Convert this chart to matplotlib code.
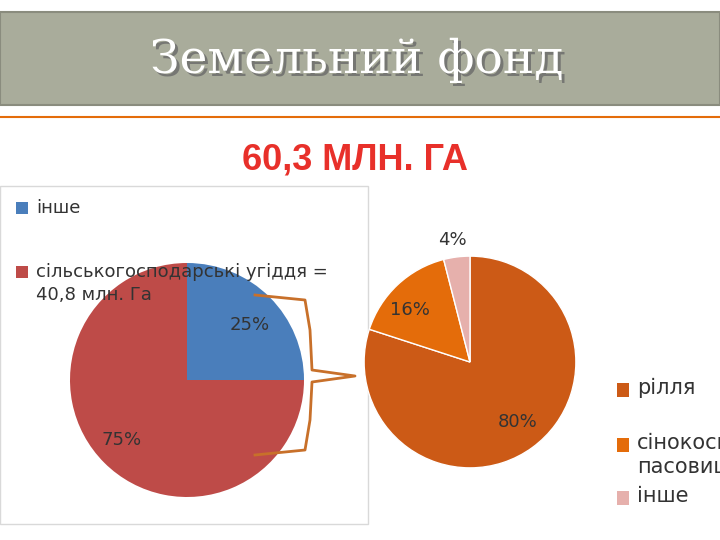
import matplotlib
matplotlib.use('Agg')
import matplotlib.pyplot as plt
from matplotlib.patches import Rectangle

left_labels = ["інше", "сільськогосподарські угіддя =\n40,8 млн. Га"]
left_values = [25, 75]
right_labels = ["рілля", "сінокоси,\nпасовища", "інше"]
right_values = [80, 16, 4]

W, H = 720, 540
def fx(x): return x / W
def fy(y): return 1 - y / H

fig = plt.figure(figsize=(7.2, 5.4), dpi=100)
fig.patch.set_facecolor('white')

# title bar
fig.patches.append(Rectangle((0, fy(105)), 1, (105 - 12) / H, transform=fig.transFigure,
                             facecolor='#a9ac9b', edgecolor='#8a8c7e', lw=1.5, zorder=-2))
fig.text(fx(360), fy(63), "Земельний фонд", ha='center', va='center', fontsize=34,
         family='DejaVu Serif', color='#6a6a6a', alpha=0.8)
fig.text(fx(357), fy(60), "Земельний фонд", ha='center', va='center', fontsize=34,
         family='DejaVu Serif', color='white')
fig.lines.append(plt.Line2D([fx(0), 1], [fy(117), fy(117)], transform=fig.transFigure,
                            color='#e46c0a', lw=1.5))
fig.text(fx(355), fy(160), "60,3 МЛН. ГА", ha='center', va='center', fontsize=26,
         fontweight='bold', color='#e8302a', family='Liberation Sans')

# left panel
fig.patches.append(Rectangle((0, fy(524)), 368 / W, (524 - 186) / H, transform=fig.transFigure,
                             facecolor='white', edgecolor='#d9d9d9', lw=1, zorder=-2))
lcol = ['#4a7ebb', '#be4b48']
ax1 = fig.add_axes([fx(70), fy(497), 234 / W, 234 / H])
ax1.pie(left_values, colors=lcol, startangle=90, counterclock=False,
        wedgeprops=dict(linewidth=0))
ax1.set_xlim(-1, 1)
ax1.set_ylim(-1, 1)
ax1.set_aspect('equal')
fig.text(fx(250), fy(325), "25%", ha='center', va='center', fontsize=13, color='#333333')
fig.text(fx(122), fy(440), "75%", ha='center', va='center', fontsize=13, color='#333333')
for i, (lab, c) in enumerate(zip(left_labels, lcol)):
    y = [208, 272][i]
    fig.patches.append(Rectangle((fx(16), fy(y + 6)), 12 / W, 12 / H,
                                 transform=fig.transFigure, facecolor=c))
    fig.text(fx(36), fy(y - 9), lab, ha='left', va='top', fontsize=13,
             color='#333333', linespacing=1.35)

# right pie
rcol = ['#cc5a16', '#e46c0a', '#e6b0ac']
ax2 = fig.add_axes([fx(362), fy(470), 216 / W, 216 / H])
ax2.pie(right_values, colors=rcol, startangle=90, counterclock=False,
        wedgeprops=dict(linewidth=1, edgecolor='white'))
ax2.set_xlim(-1.02, 1.02)
ax2.set_ylim(-1.02, 1.02)
ax2.set_aspect('equal')
fig.text(fx(518), fy(422), "80%", ha='center', va='center', fontsize=13, color='#333333')
fig.text(fx(410), fy(310), "16%", ha='center', va='center', fontsize=13, color='#333333')
fig.text(fx(452), fy(240), "4%", ha='center', va='center', fontsize=13, color='#333333')

# right legend
for i, (lab, c) in enumerate(zip(right_labels, rcol)):
    y = [390, 445, 498][i]
    fig.patches.append(Rectangle((fx(617), fy(y + 7)), 12 / W, 14 / H,
                                 transform=fig.transFigure, facecolor=c))
    fig.text(fx(637), fy(y - 12), lab, ha='left', va='top', fontsize=15,
             color='#333333', linespacing=1.2)

# brace connector
bx = [255, 305, 310, 312, 355, 312, 310, 305, 255]
by = [295, 300, 330, 370, 376, 382, 420, 450, 455]
fig.lines.append(plt.Line2D([fx(v) for v in bx], [fy(v) for v in by],
                            transform=fig.transFigure, color='#c8702a', lw=2))

fig.savefig('out.png', dpi=100)
